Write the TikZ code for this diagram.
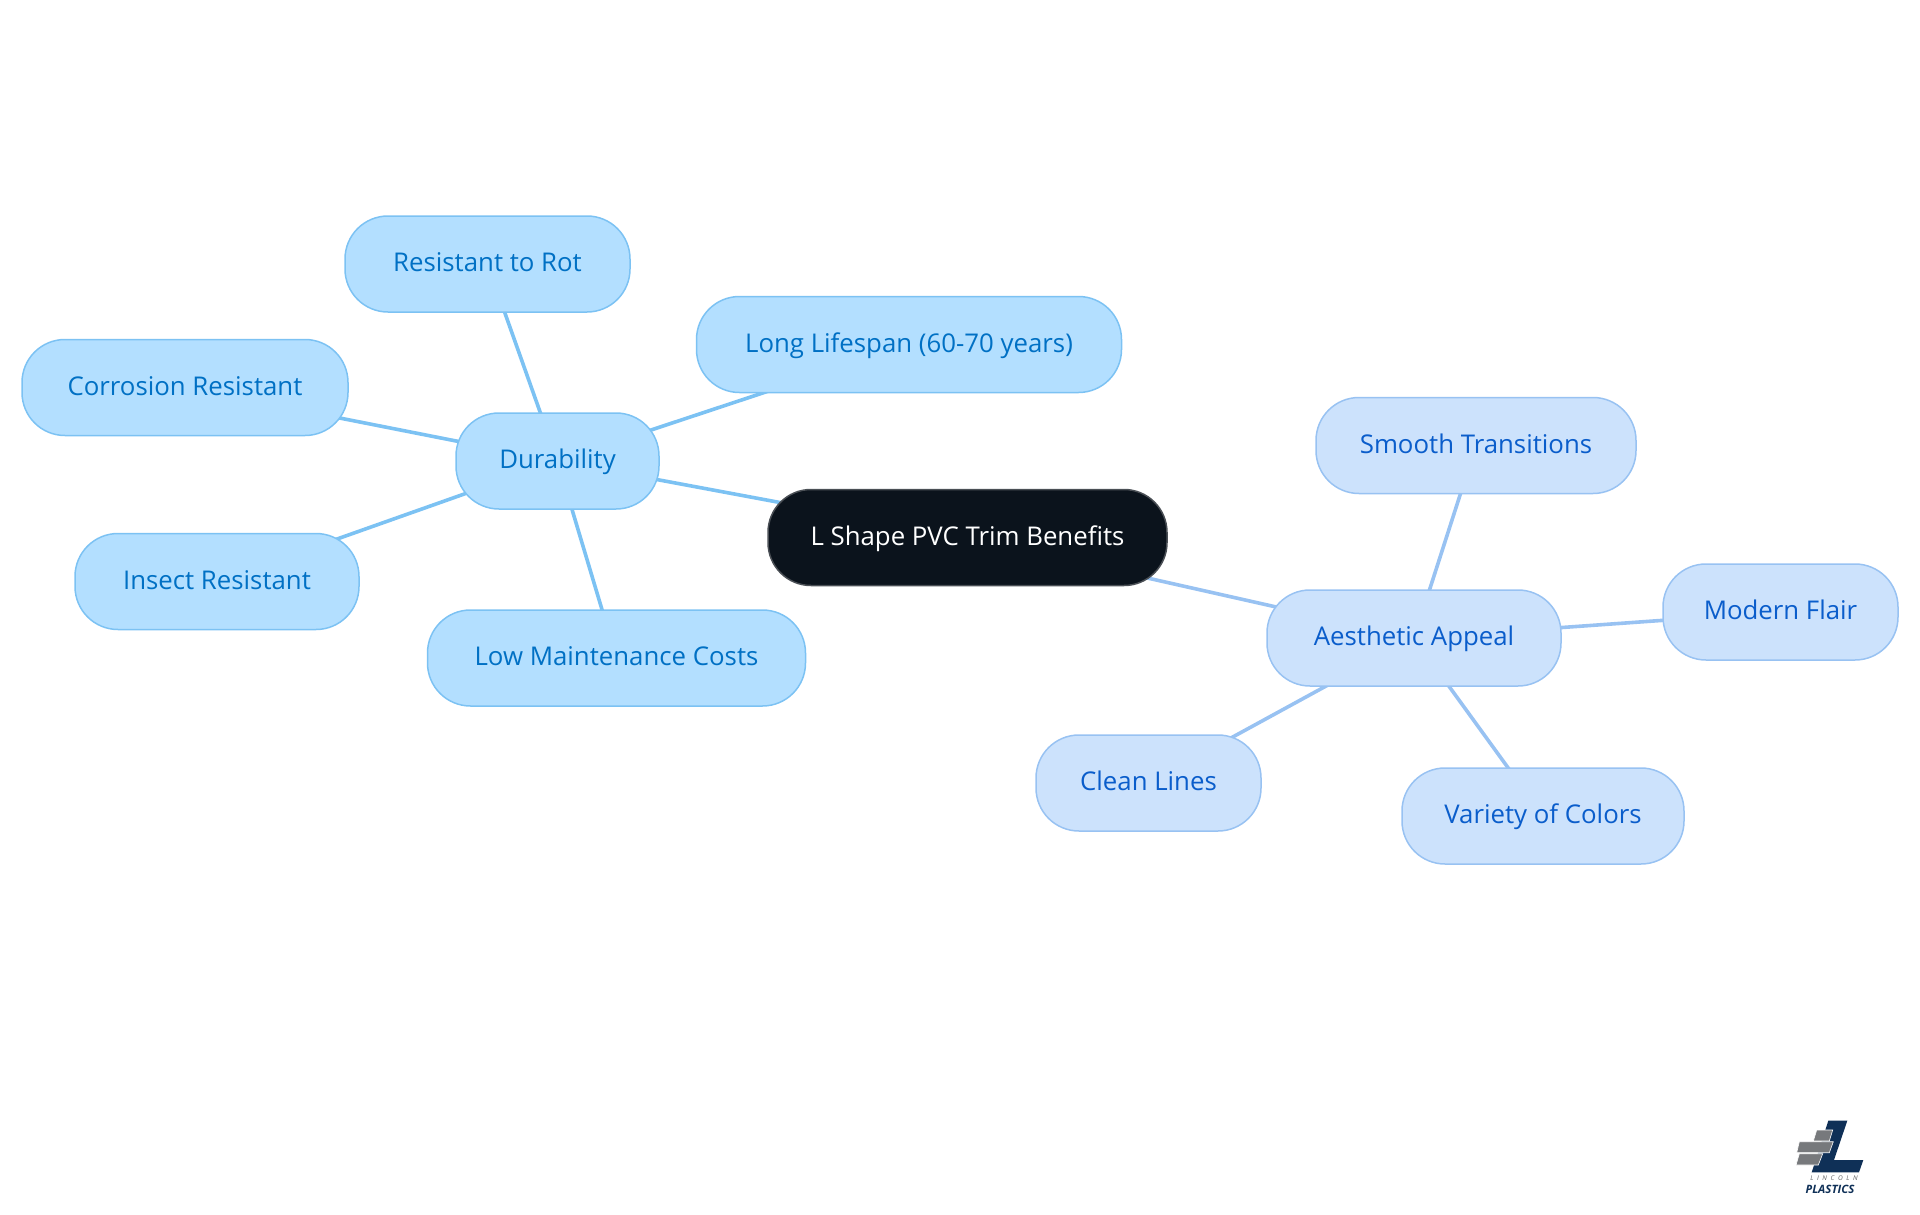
\documentclass[tikz,border=0pt]{standalone}
\usepackage{fontspec}
\setmainfont{Open Sans}
\usepackage{tikz}
\usetikzlibrary{positioning, backgrounds}
\definecolor{rootfill}{HTML}{0B131C}
\definecolor{rootdraw}{HTML}{4A4F55}
\definecolor{durfill}{HTML}{B3DFFF}
\definecolor{durdraw}{HTML}{7CC2F3}
\definecolor{durtext}{HTML}{0070C4}
\definecolor{aesfill}{HTML}{CCE2FC}
\definecolor{aesdraw}{HTML}{98C2F2}
\definecolor{aestext}{HTML}{0A5DCB}
\definecolor{logoblue}{HTML}{0F3057}
\definecolor{logogray}{HTML}{77797C}
\tikzstyle{pill} = [draw, line width = 1.5pt, rounded corners = 43pt, inner sep = 0pt, minimum height = 96pt, text height = 20pt, text depth = 5pt, font = \fontsize{25.8}{30}\selectfont]
\tikzstyle{rootnode} = [pill, fill = rootfill, draw = rootdraw, text = white]
\tikzstyle{dnode} = [pill, fill = durfill, draw = durdraw, text = durtext]
\tikzstyle{anode} = [pill, fill = aesfill, draw = aesdraw, text = aestext]
\tikzstyle{dline} = [draw = durdraw, line width = 3.6pt]
\tikzstyle{aline} = [draw = aesdraw, line width = 3.6pt]
\tikzstyle{brick} = [fill = logogray, draw = white, line width = 0.6pt]
\begin{document}
\begin{tikzpicture}[x=1pt, y=-1pt]
	\useasboundingbox (0, 0) rectangle (1920, 1215);

	\node [rootnode, minimum width = 399pt] (root) at (967.5, 537.5) {L Shape PVC Trim Benefits};

	\node [dnode, minimum width = 203pt] (dur) at (557.5, 461) {Durability};
	\node [dnode, minimum width = 285pt] (rot) at (487.5, 264) {Resistant to Rot};
	\node [dnode, minimum width = 425pt] (life) at (909, 344.5) {Long Lifespan (60-70 years)};
	\node [dnode, minimum width = 326pt] (corr) at (185, 387.5) {Corrosion Resistant};
	\node [dnode, minimum width = 284pt] (insect) at (217, 581.5) {Insect Resistant};
	\node [dnode, minimum width = 378pt] (cost) at (616.5, 658) {Low Maintenance Costs};

	\node [anode, minimum width = 294pt] (aes) at (1414, 638) {Aesthetic Appeal};
	\node [anode, minimum width = 320pt] (smooth) at (1476, 445.5) {Smooth Transitions};
	\node [anode, minimum width = 235pt] (modern) at (1780.5, 612) {Modern Flair};
	\node [anode, minimum width = 282pt] (colors) at (1543, 816) {Variety of Colors};
	\node [anode, minimum width = 225pt] (clean) at (1148.5, 783) {Clean Lines};

	\begin{scope}[on background layer]
		\path [dline] (root.center) -- (dur.center);
		\path [dline] (dur.center) -- (rot.center);
		\path [dline] (dur.center) -- (life.center);
		\path [dline] (dur.center) -- (corr.center);
		\path [dline] (dur.center) -- (insect.center);
		\path [dline] (dur.center) -- (cost.center);
		\path [aline] (root.center) -- (aes.center);
		\path [aline] (aes.center) -- (smooth.center);
		\path [aline] (aes.center) -- (modern.center);
		\path [aline] (aes.center) -- (colors.center);
		\path [aline] (aes.center) -- (clean.center);
	\end{scope}

	% logo
	\fill [logoblue] (1828.3, 1120.7) -- (1847.3, 1120.7) -- (1834, 1160) -- (1863.3, 1160) -- (1859, 1172.3) -- (1811.7, 1172.3) -- cycle;
	\path [brick] (1816.7, 1130) -- (1832.7, 1130) -- (1829.3, 1141) -- (1813.3, 1141) -- cycle;
	\path [brick] (1799.3, 1141.7) -- (1833.3, 1141.7) -- (1829.3, 1152.7) -- (1796.7, 1152.7) -- cycle;
	\path [brick] (1799.3, 1153.7) -- (1822.7, 1153.7) -- (1818.3, 1165) -- (1796, 1165) -- cycle;
	\node [inner sep = 0pt, text = logogray!80!black, font = \fontsize{6.5}{7}\itshape] (lincoln) at (1834, 1178.5) {L\hspace{3.6pt}I\hspace{3.6pt}N\hspace{3.6pt}C\hspace{3.6pt}O\hspace{3.6pt}L\hspace{3.6pt}N};
	\node [inner sep = 0pt, text = logoblue, font = \fontsize{11.5}{12}\bfseries\itshape] (plastics) at (1830, 1189) {PLASTICS};
\end{tikzpicture}
\end{document}
